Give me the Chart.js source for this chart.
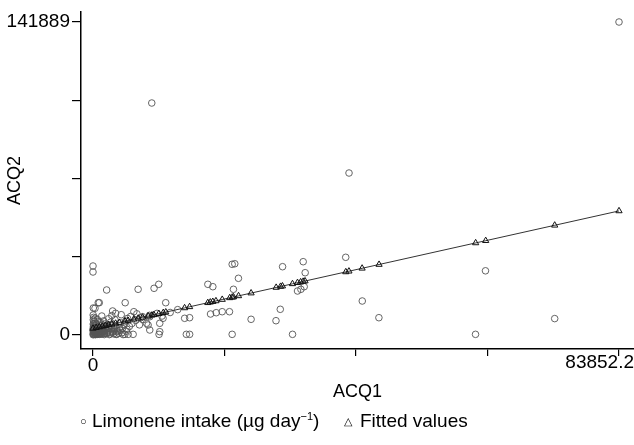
<!DOCTYPE html>
<html>
<head>
<meta charset="utf-8">
<script src="https://cdn.jsdelivr.net/npm/chart.js@4/dist/chart.umd.min.js"></script>
<style>
  html, body { margin: 0; padding: 0; background: #fff; }
  #box { position: relative; width: 634px; height: 445px; }
  #legenda {
    position: absolute; left: 0; top: 410px; width: 634px; height: 26px;
    font-family: "Liberation Sans", Arial, sans-serif; font-size: 19px; color: #000;
    white-space: nowrap;
  }
  #legenda span { position: absolute; top: 0; }
  #legenda .sim { font-size: 11px; top: 5px; }
  #legenda sup { font-size: 11px; }
</style>
</head>
<body>
<div id="box">
  <canvas id="myChart1" width="634" height="445"></canvas>
  <div id="legenda">
    <span class="sim" style="left:80px">○</span>
    <span style="left:92px">Limonene intake (µg day<sup>−1</sup>)</span>
    <span class="sim" style="left:344px">△</span>
    <span style="left:360px">Fitted values</span>
  </div>
</div>
<script>
// ticks dos eixos
const ticksX = [0, 20963.05, 41926.1, 62889.15, 83852.2];
const ticksY = [0, 35472.25, 70944.5, 106416.75, 141889];

// ingestao de limoneno (ACQ1, ACQ2)
const acq1 = [
  120, 300, 500, 800, 1000, 1300, 1500, 200, 600, 900, 1100, 1600, 1900, 2100, 2400, 2700, 3000, 3300, 3600, 3900,
  4200, 4600, 5000, 5400, 5800, 50, 150, 400, 700, 1200, 1700, 2200, 2800, 3500, 4400, 250, 450, 650, 850, 1050,
  1250, 1450, 1800, 2000, 2300, 2600, 2900, 3200, 3700, 4100, 4800, 100, 80, 350, 2500, 5200, 6200, 6800, 7400, 8000,
  1400, 3000, 4500, 6000, 7000, 60, 180, 900, 1900, 3400, 5500, 7600, 9000, 10200, 11000, 12300, 13500,
  20, 40, 70, 110, 160, 220, 280, 330, 380, 430, 480, 540, 590, 640, 700, 760, 820, 880, 940, 1020,
  1080, 1150, 1220, 1330, 1420, 1550, 1680, 1750, 1850, 1980, 2150, 2350, 2550, 2750, 3100, 3450, 3800, 4300, 4700, 5300,
  20, 30, 90, 45, 260, 560,
  2175, 1000, 50, 30, 7193, 9735, 10480, 5130, 3128, 3605, 6511, 11592, 18310, 19104, 22184, 22600, 23185, 22390,
  25202, 20596, 21756, 19644, 18738, 14610, 15404, 8782, 10640, 11164, 9051, 7892, 5082, 5606, 6400, 3764, 10529,
  14880, 15404, 22184, 840, 318, 8528, 9051, 10640, 0, 0,
  30220, 33507, 33824, 32602, 33142, 33666, 29854, 29171, 31808,
  40287, 42924, 45576, 62567, 60979, 73600, 40812, 9369, 83852.2
];
const acq2 = [
  300, 900, 1500, 400, 2200, 600, 3000, 2600, 3500, 1200, 4200, 1800, 800, 2500, 3600, 1300, 2800, 500, 4100, 2000,
  3200, 1000, 4800, 2600, 3900, 4800, 6200, 5400, 7000, 5600, 6400, 4600, 5800, 6900, 5500, 1000, 200, 2000, 2900, 300,
  1600, 4600, 200, 3800, 1100, 200, 4200, 1700, 300, 800, 200, 8000, 3800, 7600, 7400, 6300, 5200, 6600, 4600, 7000,
  8600, 8800, 9200, 8400, 9600, 1800, 3200, 6000, 5000, 3400, 7500, 7800, 8900, 9800, 8600, 10200, 11500,
  100, 600, 1200, 2000, 400, 1400, 2800, 200, 1800, 900, 3300, 600, 2400, 1100, 300, 1700, 3700, 700, 2600, 1300,
  500, 3100, 900, 2100, 400, 1300, 2700, 600, 1500, 3100, 700, 1900, 2900, 500, 1200, 2400, 1500, 2100, 3000, 1700,
  2200, 3000, 5200, 6900, 4300, 4900,
  20399, 14640, 12240, 9066, 20716, 21169, 22982, 14640, 10879, 9837, 10562, 14640, 22982, 21894, 32049, 32300, 25702, 20716,
  7117, 10562, 10562, 10108, 9519, 7570, 7842, 4533, 5303, 7570, 8296, 8296, 300, 300, 300, 300, 300,
  300, 300, 300, 14640, 12100, 5303, 2266, 1500, 31277, 28558,
  30960, 33227, 28241, 19945, 20716, 21894, 11650, 6482, 300,
  35221, 15412, 7842, 29102, 300, 7434, 73435, 105166, 141889
];

// valores ajustados lidos sobre a reta
const ajusteX = [
  0, 500, 1000, 1500, 2000, 2500, 3000, 3600, 4200, 5100, 5600, 6500, 7200, 7900, 8800, 9400, 9700, 10500, 11200, 11600,
  14600, 15400, 18300, 18700, 19100, 19600, 20600, 21800, 22200, 22400, 23200, 25200, 29200, 29900, 30200, 31800,
  32600, 33100, 33500, 33800, 40300, 40800, 42900, 45600, 61000, 62600, 73600, 83852.2
];
const ajusteY = [
  3000, 3318, 3635, 3953, 4270, 4588, 4905, 5286, 5667, 6239, 6556, 7128, 7572, 8017, 8588, 8969, 9160, 9668, 10112, 10366,
  12271, 12779, 14621, 14875, 15129, 15446, 16081, 16843, 17097, 17224, 17732, 19002, 21542, 21987, 22177, 23193,
  23701, 24019, 24273, 24463, 28591, 28908, 30242, 31956, 41735, 42751, 49736, 56246
];

const fonte = '"Liberation Sans", Arial, sans-serif';

let pontos = [];
for (let i = 0; i < acq1.length; i++) {
  pontos.push({ x: acq1[i], y: acq2[i] });
}
let ajustados = [];
for (let i = 0; i < ajusteX.length; i++) {
  ajustados.push({ x: ajusteX[i], y: ajusteY[i] });
}

// rotulo final do eixo x, mantido dentro da tela
const rotuloFinal = {
  id: "rotuloFinal",
  afterDraw(chart) {
    const escala = chart.scales.x;
    const ctx = chart.ctx;
    const texto = "83852.2";
    ctx.save();
    ctx.font = "19px " + fonte;
    ctx.fillStyle = "#000";
    ctx.textBaseline = "middle";
    const w = ctx.measureText(texto).width;
    let px = escala.getPixelForValue(ticksX[ticksX.length - 1]) - w / 2;
    if (px + w > chart.width) px = chart.width - w;
    ctx.fillText(texto, px, escala.top + 14);
    ctx.restore();
  }
};

const config = {
  type: "scatter",
  data: {
    datasets: [
      {
        label: "Fitted values",
        data: ajustados,
        showLine: true,
        borderColor: "#333",
        borderWidth: 1,
        backgroundColor: "rgba(0,0,0,0)",
        pointStyle: "triangle",
        pointRadius: 3.6,
        pointBorderColor: "#111",
        pointBorderWidth: 1,
        pointBackgroundColor: "rgba(0,0,0,0)",
        tension: 0,
        order: 1,
      },
      {
        label: "Limonene intake",
        data: pontos,
        pointStyle: "circle",
        pointRadius: 3.3,
        pointBorderColor: "#555",
        pointBorderWidth: 0.9,
        pointBackgroundColor: "rgba(0,0,0,0)",
        order: 2,
      },
    ],
  },
  options: {
    responsive: false,
    animation: false,
    layout: { autoPadding: false, padding: { top: 12, right: 0, bottom: 0, left: 0 } },
    plugins: {
      legend: { display: false },
      tooltip: { enabled: false },
    },
    scales: {
      x: {
        type: "linear",
        min: -1913,
        max: 86243,
        afterBuildTicks: (s) => { s.ticks = ticksX.map((v) => ({ value: v })); },
        afterFit: (s) => { s.height = 96; s.paddingLeft = 0; s.paddingRight = 0; },
        ticks: {
          autoSkip: false,
          maxRotation: 0,
          padding: -2,
          color: "#000",
          font: { family: fonte, size: 19 },
          callback: (v) => (v === 0 ? "0" : ""),
        },
        grid: { drawOnChartArea: false, drawTicks: true, tickLength: 7, color: "#000", lineWidth: 1.2 },
        border: { display: true, color: "#000", width: 1.5 },
        title: {
          display: true,
          text: "ACQ1",
          color: "#000",
          font: { family: fonte, size: 18 },
          padding: { top: 0, bottom: 42 },
        },
      },
      y: {
        type: "linear",
        min: -6346,
        max: 146422,
        afterBuildTicks: (s) => { s.ticks = ticksY.map((v) => ({ value: v })); },
        afterFit: (s) => { s.width = 81; s.paddingTop = 0; s.paddingBottom = 0; },
        ticks: {
          autoSkip: false,
          padding: 2,
          color: "#000",
          font: { family: fonte, size: 19 },
          callback: (v) => (v === 0 ? "0" : v === 141889 ? "141889" : ""),
        },
        grid: { drawOnChartArea: false, drawTicks: true, tickLength: 9, color: "#000", lineWidth: 1.2 },
        border: { display: true, color: "#000", width: 1.5 },
        title: {
          display: true,
          text: "ACQ2",
          color: "#000",
          font: { family: fonte, size: 18 },
          padding: { top: 4, bottom: 0 },
        },
      },
    },
  },
  plugins: [rotuloFinal],
};

let myChart = new Chart(document.getElementById("myChart1"), config);
</script>
</body>
</html>
